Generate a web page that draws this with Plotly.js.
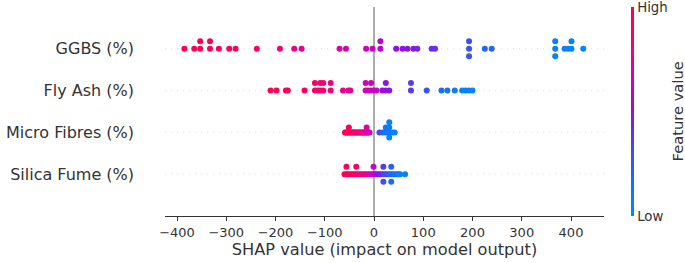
<!DOCTYPE html>
<html>
<head>
<meta charset="utf-8">
<script src="https://cdn.plot.ly/plotly-3.0.1.min.js"></script>
<style>
  html, body { margin: 0; padding: 0; background: #fff; }
  #chart { width: 685px; height: 263px; }
</style>
</head>
<body>
<div id="chart"></div>
<script>
// Feature names, bottom to top
const FEATURES = ['Silica Fume (%)', 'Micro Fibres (%)', 'Fly Ash (%)', 'GGBS (%)'];

// SHAP values per feature
const GGBS_SHAP = [-385, -365, -353, -353, -333, -333, -315, -294, -281, -238, -191, -162, -147,
  -70, -57, -16, -3, 13, 13, 45, 58, 68, 80, 88, 117, 124,
  193, 193, 193, 225, 239, 368, 368, 368, 387, 394, 401, 401, 425];
const GGBS_FEAT = [1.0, 1.0, 0.98, 0.98, 0.97, 0.97, 0.96, 0.95, 0.95, 0.92, 0.84, 0.78, 0.76,
  0.7, 0.69, 0.64, 0.63, 0.58, 0.58, 0.52, 0.5, 0.5, 0.48, 0.44, 0.4, 0.39,
  0.28, 0.28, 0.28, 0.2, 0.19, 0.06, 0.06, 0.06, 0.05, 0.04, 0.03, 0.03, 0.02];

const FLY_SHAP = [-210, -198, -179, -175, -141, -120, -114, -109, -103, -88, -63, -52, -48,
  -17, -12, -6, 0, 5, 17, 24, 31, 75, 107, 137, 149, 164, 179, 186, 193, 200,
  -120, -109, -103, -88, -17, -6, 24, 75];
const FLY_FEAT = [1.0, 1.0, 0.98, 0.98, 0.95, 0.9, 0.9, 0.89, 0.89, 0.86, 0.78, 0.76, 0.75,
  0.67, 0.66, 0.65, 0.64, 0.63, 0.52, 0.5, 0.48, 0.35, 0.26, 0.13, 0.12, 0.07, 0.05, 0.05, 0.04, 0.04,
  0.9, 0.89, 0.89, 0.86, 0.67, 0.65, 0.5, 0.35];

const MICRO_SHAP = [-59, -57, -55, -53, -51, -49, -47, -45, -43, -41, -39, -37, -35, -33, -31, -29,
  -27, -25, -23, -21, -19, -17, -15, -13, -11, -9, -51, -15,
  11, 18, 24, 24, 29, 31, 31, 31, 31, 37, 42];
const MICRO_FEAT = [1.0, 1.0, 0.99, 0.98, 0.98, 0.97, 0.96, 0.95, 0.94, 0.93, 0.92, 0.9, 0.89, 0.88, 0.86, 0.85,
  0.83, 0.82, 0.8, 0.78, 0.76, 0.74, 0.72, 0.7, 0.68, 0.66, 0.98, 0.72,
  0.32, 0.18, 0.12, 0.12, 0.08, 0.06, 0.06, 0.06, 0.06, 0.04, 0.03];

const SILICA_SHAP = [-60, -56, -52, -48, -44, -40, -36, -32, -28, -24, -20, -16, -12, -8, -4, -1,
  3, 7, 11, 15, 19, 23, 27, 31, 35, 39, 43, 47, 50, 53, 63,
  -56, -36, -1, 19, 19, 35, 35];
const SILICA_FEAT = [1.0, 0.99, 0.98, 0.96, 0.95, 0.93, 0.91, 0.88, 0.85, 0.82, 0.79, 0.76, 0.72, 0.69, 0.66, 0.62,
  0.56, 0.52, 0.47, 0.43, 0.36, 0.32, 0.28, 0.24, 0.2, 0.15, 0.11, 0.08, 0.06, 0.05, 0.03,
  0.99, 0.91, 0.62, 0.36, 0.3, 0.2, 0.17];

const SHAP_ROWS = [SILICA_SHAP, MICRO_SHAP, FLY_SHAP, GGBS_SHAP];
const FEAT_ROWS = [SILICA_FEAT, MICRO_FEAT, FLY_FEAT, GGBS_FEAT];

const X_TICKS = [-400, -300, -200, -100, 0, 100, 200, 300, 400];
const CB_TICKTEXT = ['Low', 'High'];
const CB_TITLE = 'Feature value';

// shap-like beeswarm layering
function beeswarm(vals, rowHeight) {
  const N = vals.length;
  const mn = Math.min(...vals), mx = Math.max(...vals);
  const quant = vals.map(v => Math.round(100 * (v - mn) / (mx - mn + 1e-8)));
  const inds = [...Array(N).keys()].sort((a, b) => (quant[a] - quant[b]) || (a - b));
  let layer = 0, last = -1;
  const ys = new Array(N).fill(0);
  for (const i of inds) {
    if (quant[i] !== last) layer = 0;
    ys[i] = Math.ceil(layer / 2) * ((layer % 2) * 2 - 1);
    layer++;
    last = quant[i];
  }
  const m = Math.max(...ys.map(y => y + 1));
  return ys.map(y => y * 0.9 * (rowHeight / m));
}

const xs = [], ys = [], cs = [];
SHAP_ROWS.forEach((row, pos) => {
  const off = beeswarm(row, 0.4);
  row.forEach((v, i) => {
    xs.push(v);
    ys.push(pos + off[i]);
    cs.push(FEAT_ROWS[pos][i]);
  });
});

const colorscale = [
  [0.0, 'rgb(0,138,250)'],
  [0.15, 'rgb(22,110,250)'],
  [0.3, 'rgb(62,78,245)'],
  [0.42, 'rgb(115,38,238)'],
  [0.52, 'rgb(155,10,225)'],
  [0.62, 'rgb(200,0,200)'],
  [0.77, 'rgb(235,0,140)'],
  [1.0, 'rgb(255,0,82)']
];

const shapes = [];
FEATURES.forEach((f, pos) => {
  shapes.push({type: 'line', xref: 'paper', x0: 0, x1: 1, yref: 'y', y0: pos, y1: pos,
    line: {color: '#cccccc', width: 0.7, dash: '1px,5px'}, layer: 'below'});
});
shapes.push({type: 'line', xref: 'x', x0: 0, x1: 0, yref: 'y', y0: -1, y1: 4,
  line: {color: '#999999', width: 1.6}, layer: 'below'});

const trace = {
  type: 'scatter', mode: 'markers', x: xs, y: ys,
  hoverinfo: 'skip',
  marker: {
    size: 6, color: cs, colorscale: colorscale, cmin: 0, cmax: 1,
    line: {width: 0},
    showscale: true,
    colorbar: {
      x: 1.062, xanchor: 'left', xref: 'paper',
      y: 0.5, yanchor: 'middle', len: 1, lenmode: 'fraction',
      thickness: 3, outlinewidth: 0, xpad: 0, ypad: 0,
      tickvals: [0, 1], ticktext: CB_TICKTEXT, ticks: '',
      ticklabeloverflow: 'allow',
      tickfont: {family: 'DejaVu Sans', size: 13.3, color: '#333333'}
    }
  }
};

const layout = {
  width: 685, height: 263,
  margin: {l: 165, r: 81, t: 7, b: 47, pad: 0},
  paper_bgcolor: '#ffffff', plot_bgcolor: '#ffffff',
  font: {family: 'DejaVu Sans', color: '#333333'},
  showlegend: false,
  xaxis: {
    range: [-424.4, 467], tickvals: X_TICKS, ticks: 'outside', ticklen: 4, tickwidth: 1,
    tickcolor: '#333333', showline: true, linecolor: '#333333', linewidth: 1,
    zeroline: false, showgrid: false, automargin: false,
    tickfont: {family: 'DejaVu Sans', size: 13, color: '#333333'},
    title: {text: 'SHAP value (impact on model output)', standoff: 4,
      font: {family: 'DejaVu Sans', size: 16.2, color: '#333333'}}
  },
  yaxis: {
    range: [-1, 4], tickvals: [0, 1, 2, 3], ticktext: FEATURES,
    showgrid: false, zeroline: false, showline: false, ticks: '', automargin: false,
    ticklabelstandoff: 30,
    tickfont: {family: 'DejaVu Sans', size: 16, color: '#333333'}
  },
  annotations: [{
    text: CB_TITLE, xref: 'paper', yref: 'paper',
    x: (677 - 165) / 439, y: 0.5, xanchor: 'center', yanchor: 'middle',
    textangle: -90, showarrow: false,
    font: {family: 'DejaVu Sans', size: 14.7, color: '#333333'}
  }],
  shapes: shapes
};

Plotly.newPlot('chart', [trace], layout, {displayModeBar: false, staticPlot: true});
</script>
</body>
</html>
